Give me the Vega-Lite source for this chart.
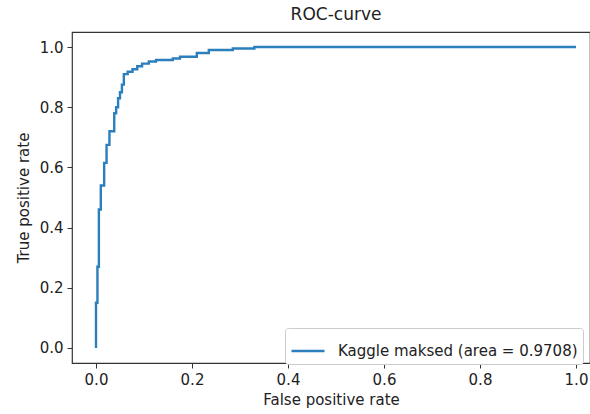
{
  "$schema": "https://vega.github.io/schema/vega-lite/v6.json",
  "width": 518,
  "height": 331,
  "autosize": "none",
  "padding": {"left": 72, "top": 32, "right": 0, "bottom": 51},
  "background": "white",
  "config": {
    "font": "DejaVu Sans",
    "view": {"stroke": "#333333", "strokeWidth": 1.2},
    "axis": {"labelColor": "#222222", "titleColor": "#222222", "domain": false, "tickColor": "#333333", "grid": false, "labelFontWeight": "normal", "titleFontWeight": "normal"}
  },
  "title": {"text": "ROC-curve", "fontSize": 17, "fontWeight": "normal", "color": "#222222", "anchor": "middle", "offset": 8, "frame": "group", "dx": 5},
  "data": {
    "values": [
      {"i": 0, "fpr": 0.0, "tpr": 0.0, "s": "Kaggle maksed (area = 0.9708)"},
      {"i": 1, "fpr": 0.0, "tpr": 0.15, "s": "Kaggle maksed (area = 0.9708)"},
      {"i": 2, "fpr": 0.003, "tpr": 0.15, "s": "Kaggle maksed (area = 0.9708)"},
      {"i": 3, "fpr": 0.003, "tpr": 0.27, "s": "Kaggle maksed (area = 0.9708)"},
      {"i": 4, "fpr": 0.006, "tpr": 0.27, "s": "Kaggle maksed (area = 0.9708)"},
      {"i": 5, "fpr": 0.006, "tpr": 0.46, "s": "Kaggle maksed (area = 0.9708)"},
      {"i": 6, "fpr": 0.01, "tpr": 0.46, "s": "Kaggle maksed (area = 0.9708)"},
      {"i": 7, "fpr": 0.01, "tpr": 0.54, "s": "Kaggle maksed (area = 0.9708)"},
      {"i": 8, "fpr": 0.017, "tpr": 0.54, "s": "Kaggle maksed (area = 0.9708)"},
      {"i": 9, "fpr": 0.017, "tpr": 0.615, "s": "Kaggle maksed (area = 0.9708)"},
      {"i": 10, "fpr": 0.022, "tpr": 0.615, "s": "Kaggle maksed (area = 0.9708)"},
      {"i": 11, "fpr": 0.022, "tpr": 0.675, "s": "Kaggle maksed (area = 0.9708)"},
      {"i": 12, "fpr": 0.028, "tpr": 0.675, "s": "Kaggle maksed (area = 0.9708)"},
      {"i": 13, "fpr": 0.028, "tpr": 0.72, "s": "Kaggle maksed (area = 0.9708)"},
      {"i": 14, "fpr": 0.038, "tpr": 0.72, "s": "Kaggle maksed (area = 0.9708)"},
      {"i": 15, "fpr": 0.038, "tpr": 0.78, "s": "Kaggle maksed (area = 0.9708)"},
      {"i": 16, "fpr": 0.042, "tpr": 0.78, "s": "Kaggle maksed (area = 0.9708)"},
      {"i": 17, "fpr": 0.042, "tpr": 0.8, "s": "Kaggle maksed (area = 0.9708)"},
      {"i": 18, "fpr": 0.046, "tpr": 0.8, "s": "Kaggle maksed (area = 0.9708)"},
      {"i": 19, "fpr": 0.046, "tpr": 0.83, "s": "Kaggle maksed (area = 0.9708)"},
      {"i": 20, "fpr": 0.05, "tpr": 0.83, "s": "Kaggle maksed (area = 0.9708)"},
      {"i": 21, "fpr": 0.05, "tpr": 0.85, "s": "Kaggle maksed (area = 0.9708)"},
      {"i": 22, "fpr": 0.054, "tpr": 0.85, "s": "Kaggle maksed (area = 0.9708)"},
      {"i": 23, "fpr": 0.054, "tpr": 0.875, "s": "Kaggle maksed (area = 0.9708)"},
      {"i": 24, "fpr": 0.058, "tpr": 0.875, "s": "Kaggle maksed (area = 0.9708)"},
      {"i": 25, "fpr": 0.058, "tpr": 0.91, "s": "Kaggle maksed (area = 0.9708)"},
      {"i": 26, "fpr": 0.066, "tpr": 0.91, "s": "Kaggle maksed (area = 0.9708)"},
      {"i": 27, "fpr": 0.066, "tpr": 0.918, "s": "Kaggle maksed (area = 0.9708)"},
      {"i": 28, "fpr": 0.076, "tpr": 0.918, "s": "Kaggle maksed (area = 0.9708)"},
      {"i": 29, "fpr": 0.076, "tpr": 0.926, "s": "Kaggle maksed (area = 0.9708)"},
      {"i": 30, "fpr": 0.086, "tpr": 0.926, "s": "Kaggle maksed (area = 0.9708)"},
      {"i": 31, "fpr": 0.086, "tpr": 0.936, "s": "Kaggle maksed (area = 0.9708)"},
      {"i": 32, "fpr": 0.096, "tpr": 0.936, "s": "Kaggle maksed (area = 0.9708)"},
      {"i": 33, "fpr": 0.096, "tpr": 0.945, "s": "Kaggle maksed (area = 0.9708)"},
      {"i": 34, "fpr": 0.11, "tpr": 0.945, "s": "Kaggle maksed (area = 0.9708)"},
      {"i": 35, "fpr": 0.11, "tpr": 0.952, "s": "Kaggle maksed (area = 0.9708)"},
      {"i": 36, "fpr": 0.125, "tpr": 0.952, "s": "Kaggle maksed (area = 0.9708)"},
      {"i": 37, "fpr": 0.125, "tpr": 0.957, "s": "Kaggle maksed (area = 0.9708)"},
      {"i": 38, "fpr": 0.16, "tpr": 0.957, "s": "Kaggle maksed (area = 0.9708)"},
      {"i": 39, "fpr": 0.16, "tpr": 0.962, "s": "Kaggle maksed (area = 0.9708)"},
      {"i": 40, "fpr": 0.175, "tpr": 0.962, "s": "Kaggle maksed (area = 0.9708)"},
      {"i": 41, "fpr": 0.175, "tpr": 0.968, "s": "Kaggle maksed (area = 0.9708)"},
      {"i": 42, "fpr": 0.21, "tpr": 0.968, "s": "Kaggle maksed (area = 0.9708)"},
      {"i": 43, "fpr": 0.21, "tpr": 0.98, "s": "Kaggle maksed (area = 0.9708)"},
      {"i": 44, "fpr": 0.235, "tpr": 0.98, "s": "Kaggle maksed (area = 0.9708)"},
      {"i": 45, "fpr": 0.235, "tpr": 0.99, "s": "Kaggle maksed (area = 0.9708)"},
      {"i": 46, "fpr": 0.285, "tpr": 0.99, "s": "Kaggle maksed (area = 0.9708)"},
      {"i": 47, "fpr": 0.285, "tpr": 0.995, "s": "Kaggle maksed (area = 0.9708)"},
      {"i": 48, "fpr": 0.33, "tpr": 0.995, "s": "Kaggle maksed (area = 0.9708)"},
      {"i": 49, "fpr": 0.33, "tpr": 1.0, "s": "Kaggle maksed (area = 0.9708)"},
      {"i": 50, "fpr": 1.0, "tpr": 1.0, "s": "Kaggle maksed (area = 0.9708)"}
    ]
  },
  "mark": {"type": "line", "strokeWidth": 2.4, "interpolate": "linear"},
  "encoding": {
    "x": {
      "field": "fpr", "type": "quantitative",
      "scale": {"domain": [-0.05, 1.02917], "nice": false, "zero": false},
      "axis": {"title": "False positive rate", "values": [0, 0.2, 0.4, 0.6, 0.8, 1.0], "format": ".1f", "labelFontSize": 15, "titleFontSize": 15, "tickSize": 5, "labelPadding": 4, "titlePadding": 5}
    },
    "y": {
      "field": "tpr", "type": "quantitative",
      "scale": {"domain": [-0.05, 1.05], "nice": false, "zero": false},
      "axis": {"title": "True positive rate", "values": [0, 0.2, 0.4, 0.6, 0.8, 1.0], "format": ".1f", "labelFontSize": 15, "titleFontSize": 15, "tickSize": 5, "labelPadding": 4, "titlePadding": 8}
    },
    "order": {"field": "i", "type": "quantitative"},
    "color": {
      "field": "s", "type": "nominal",
      "scale": {"range": ["#2b7fbc"]},
      "legend": {
        "title": null, "orient": "none", "legendX": 213, "legendY": 296,
        "symbolType": "stroke", "symbolSize": 1089, "symbolStrokeWidth": 2.4,
        "labelFontSize": 15, "labelColor": "#222222", "labelOffset": 12, "labelLimit": 400,
        "padding": 5, "strokeColor": "#cccccc", "fillColor": "white", "cornerRadius": 3
      }
    }
  }
}
